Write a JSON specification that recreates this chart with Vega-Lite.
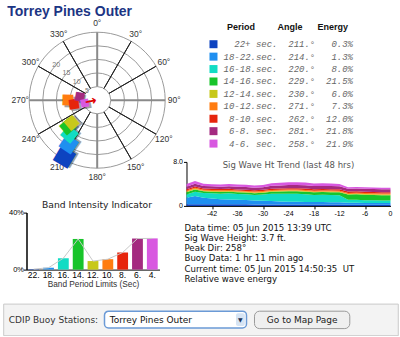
{
  "$schema": "https://vega.github.io/schema/vega-lite/v6.json",
  "background": "white",
  "padding": {"left": 2.2, "top": 5, "right": 0, "bottom": 0},
  "config": {"view": {"stroke": null}, "font": "DejaVu Sans"},
  "datasets": {
    "bands": [
      {"p": 22, "band": "22+ sec.", "angle": 211, "angleLabel": "211.°", "energy": 0.003, "rpos": 24.1},
      {"p": 18, "band": "18-22.sec.", "angle": 214, "angleLabel": "214.°", "energy": 0.013, "rpos": 19.3},
      {"p": 16, "band": "16-18.sec.", "angle": 220, "angleLabel": "220.°", "energy": 0.080, "rpos": 16.2},
      {"p": 14, "band": "14-16.sec.", "angle": 229, "angleLabel": "229.°", "energy": 0.215, "rpos": 14.5},
      {"p": 12, "band": "12-14.sec.", "angle": 230, "angleLabel": "230.°", "energy": 0.060, "rpos": 12.5},
      {"p": 10, "band": "10-12.sec.", "angle": 271, "angleLabel": "271.°", "energy": 0.073, "rpos": 10.7},
      {"p": 8, "band": "8-10.sec.", "angle": 262, "angleLabel": "262.°", "energy": 0.120, "rpos": 8.6},
      {"p": 6, "band": "6-8. sec.", "angle": 281, "angleLabel": "281.°", "energy": 0.218, "rpos": 6.6},
      {"p": 4, "band": "4-6. sec.", "angle": 258, "angleLabel": "258.°", "energy": 0.219, "rpos": 4.7}
    ],
    "deg": [
      {"angle": 0, "label": "0°"}, {"angle": 30, "label": "30°"}, {"angle": 60, "label": "60°"},
      {"angle": 90, "label": "90°"}, {"angle": 120, "label": "120°"}, {"angle": 150, "label": "150°"},
      {"angle": 180, "label": "180°"}, {"angle": 210, "label": "210°"}, {"angle": 240, "label": "240°"},
      {"angle": 270, "label": "270°"}, {"angle": 300, "label": "300°"}, {"angle": 330, "label": "330°"}
    ],
    "rings": [{"r": 5}, {"r": 10}, {"r": 15}, {"r": 20}, {"r": 25}],
    "ringlab": [{"ring": 5}, {"ring": 10}, {"ring": 15}, {"ring": 20}],
    "peak": [{"dir": 258}],
    "hours": [{"hr": "-42", "t": -42}, {"hr": "-36", "t": -36}, {"hr": "-30", "t": -30}, {"hr": "-24", "t": -24}, {"hr": "-18", "t": -18}, {"hr": "-12", "t": -12}, {"hr": "-6", "t": -6}, {"hr": "0", "t": 0}],
    "info": [
      {"text": "Data time: 05 Jun 2015 13:39 UTC"},
      {"text": "Sig Wave Height: 3.7 ft."},
      {"text": "Peak Dir: 258°"},
      {"text": "Buoy Data: 1 hr 11 min ago"},
      {"text": "Current time: 05 Jun 2015 14:50:35\u00a0\u00a0UT"},
      {"text": "Relative wave energy"}
    ],
    "trend": [
      {"t":-48,"p":22,"h":0.3},{"t":-48,"p":18,"h":1.2},{"t":-48,"p":16,"h":0.55},{"t":-48,"p":14,"h":0.45},{"t":-48,"p":12,"h":0.12},{"t":-48,"p":10,"h":0.18},{"t":-48,"p":8,"h":0.22},{"t":-48,"p":6,"h":0.45},{"t":-48,"p":4,"h":0.5},
      {"t":-46,"p":22,"h":0.3},{"t":-46,"p":18,"h":1.5},{"t":-46,"p":16,"h":0.75},{"t":-46,"p":14,"h":0.45},{"t":-46,"p":12,"h":0.12},{"t":-46,"p":10,"h":0.18},{"t":-46,"p":8,"h":0.22},{"t":-46,"p":6,"h":0.5},{"t":-46,"p":4,"h":0.5},
      {"t":-44,"p":22,"h":0.28},{"t":-44,"p":18,"h":1.2},{"t":-44,"p":16,"h":0.85},{"t":-44,"p":14,"h":0.32},{"t":-44,"p":12,"h":0.12},{"t":-44,"p":10,"h":0.18},{"t":-44,"p":8,"h":0.22},{"t":-44,"p":6,"h":0.45},{"t":-44,"p":4,"h":0.4},
      {"t":-42,"p":22,"h":0.28},{"t":-42,"p":18,"h":1.05},{"t":-42,"p":16,"h":0.95},{"t":-42,"p":14,"h":0.3},{"t":-42,"p":12,"h":0.12},{"t":-42,"p":10,"h":0.18},{"t":-42,"p":8,"h":0.22},{"t":-42,"p":6,"h":0.45},{"t":-42,"p":4,"h":0.38},
      {"t":-40,"p":22,"h":0.28},{"t":-40,"p":18,"h":0.95},{"t":-40,"p":16,"h":1.0},{"t":-40,"p":14,"h":0.3},{"t":-40,"p":12,"h":0.12},{"t":-40,"p":10,"h":0.18},{"t":-40,"p":8,"h":0.22},{"t":-40,"p":6,"h":0.45},{"t":-40,"p":4,"h":0.38},
      {"t":-38,"p":22,"h":0.28},{"t":-38,"p":18,"h":0.9},{"t":-38,"p":16,"h":1.1},{"t":-38,"p":14,"h":0.3},{"t":-38,"p":12,"h":0.12},{"t":-38,"p":10,"h":0.18},{"t":-38,"p":8,"h":0.22},{"t":-38,"p":6,"h":0.48},{"t":-38,"p":4,"h":0.42},
      {"t":-36,"p":22,"h":0.28},{"t":-36,"p":18,"h":0.85},{"t":-36,"p":16,"h":1.05},{"t":-36,"p":14,"h":0.3},{"t":-36,"p":12,"h":0.12},{"t":-36,"p":10,"h":0.18},{"t":-36,"p":8,"h":0.22},{"t":-36,"p":6,"h":0.48},{"t":-36,"p":4,"h":0.42},
      {"t":-34,"p":22,"h":0.28},{"t":-34,"p":18,"h":0.8},{"t":-34,"p":16,"h":1.05},{"t":-34,"p":14,"h":0.3},{"t":-34,"p":12,"h":0.12},{"t":-34,"p":10,"h":0.18},{"t":-34,"p":8,"h":0.22},{"t":-34,"p":6,"h":0.48},{"t":-34,"p":4,"h":0.42},
      {"t":-32,"p":22,"h":0.27},{"t":-32,"p":18,"h":0.72},{"t":-32,"p":16,"h":1.0},{"t":-32,"p":14,"h":0.32},{"t":-32,"p":12,"h":0.12},{"t":-32,"p":10,"h":0.18},{"t":-32,"p":8,"h":0.22},{"t":-32,"p":6,"h":0.47},{"t":-32,"p":4,"h":0.4},
      {"t":-30,"p":22,"h":0.27},{"t":-30,"p":18,"h":0.68},{"t":-30,"p":16,"h":1.1},{"t":-30,"p":14,"h":0.35},{"t":-30,"p":12,"h":0.12},{"t":-30,"p":10,"h":0.18},{"t":-30,"p":8,"h":0.22},{"t":-30,"p":6,"h":0.48},{"t":-30,"p":4,"h":0.4},
      {"t":-28,"p":22,"h":0.27},{"t":-28,"p":18,"h":0.62},{"t":-28,"p":16,"h":1.3},{"t":-28,"p":14,"h":0.4},{"t":-28,"p":12,"h":0.12},{"t":-28,"p":10,"h":0.18},{"t":-28,"p":8,"h":0.24},{"t":-28,"p":6,"h":0.52},{"t":-28,"p":4,"h":0.45},
      {"t":-26,"p":22,"h":0.26},{"t":-26,"p":18,"h":0.55},{"t":-26,"p":16,"h":1.4},{"t":-26,"p":14,"h":0.42},{"t":-26,"p":12,"h":0.12},{"t":-26,"p":10,"h":0.18},{"t":-26,"p":8,"h":0.25},{"t":-26,"p":6,"h":0.55},{"t":-26,"p":4,"h":0.47},
      {"t":-24,"p":22,"h":0.26},{"t":-24,"p":18,"h":0.5},{"t":-24,"p":16,"h":1.45},{"t":-24,"p":14,"h":0.45},{"t":-24,"p":12,"h":0.12},{"t":-24,"p":10,"h":0.18},{"t":-24,"p":8,"h":0.25},{"t":-24,"p":6,"h":0.58},{"t":-24,"p":4,"h":0.5},
      {"t":-22,"p":22,"h":0.26},{"t":-22,"p":18,"h":0.48},{"t":-22,"p":16,"h":1.45},{"t":-22,"p":14,"h":0.47},{"t":-22,"p":12,"h":0.12},{"t":-22,"p":10,"h":0.18},{"t":-22,"p":8,"h":0.25},{"t":-22,"p":6,"h":0.6},{"t":-22,"p":4,"h":0.5},
      {"t":-20,"p":22,"h":0.25},{"t":-20,"p":18,"h":0.46},{"t":-20,"p":16,"h":1.4},{"t":-20,"p":14,"h":0.48},{"t":-20,"p":12,"h":0.12},{"t":-20,"p":10,"h":0.18},{"t":-20,"p":8,"h":0.26},{"t":-20,"p":6,"h":0.6},{"t":-20,"p":4,"h":0.5},
      {"t":-18,"p":22,"h":0.25},{"t":-18,"p":18,"h":0.44},{"t":-18,"p":16,"h":1.3},{"t":-18,"p":14,"h":0.48},{"t":-18,"p":12,"h":0.12},{"t":-18,"p":10,"h":0.18},{"t":-18,"p":8,"h":0.25},{"t":-18,"p":6,"h":0.58},{"t":-18,"p":4,"h":0.45},
      {"t":-16,"p":22,"h":0.25},{"t":-16,"p":18,"h":0.44},{"t":-16,"p":16,"h":1.32},{"t":-16,"p":14,"h":0.5},{"t":-16,"p":12,"h":0.12},{"t":-16,"p":10,"h":0.18},{"t":-16,"p":8,"h":0.25},{"t":-16,"p":6,"h":0.58},{"t":-16,"p":4,"h":0.46},
      {"t":-14,"p":22,"h":0.25},{"t":-14,"p":18,"h":0.42},{"t":-14,"p":16,"h":1.3},{"t":-14,"p":14,"h":0.52},{"t":-14,"p":12,"h":0.12},{"t":-14,"p":10,"h":0.18},{"t":-14,"p":8,"h":0.25},{"t":-14,"p":6,"h":0.58},{"t":-14,"p":4,"h":0.43},
      {"t":-12,"p":22,"h":0.25},{"t":-12,"p":18,"h":0.42},{"t":-12,"p":16,"h":1.25},{"t":-12,"p":14,"h":0.55},{"t":-12,"p":12,"h":0.12},{"t":-12,"p":10,"h":0.18},{"t":-12,"p":8,"h":0.25},{"t":-12,"p":6,"h":0.57},{"t":-12,"p":4,"h":0.41},
      {"t":-10,"p":22,"h":0.22},{"t":-10,"p":18,"h":0.34},{"t":-10,"p":16,"h":0.55},{"t":-10,"p":14,"h":0.95},{"t":-10,"p":12,"h":0.12},{"t":-10,"p":10,"h":0.18},{"t":-10,"p":8,"h":0.25},{"t":-10,"p":6,"h":0.5},{"t":-10,"p":4,"h":0.29},
      {"t":-8,"p":22,"h":0.22},{"t":-8,"p":18,"h":0.34},{"t":-8,"p":16,"h":0.55},{"t":-8,"p":14,"h":1.0},{"t":-8,"p":12,"h":0.12},{"t":-8,"p":10,"h":0.18},{"t":-8,"p":8,"h":0.25},{"t":-8,"p":6,"h":0.5},{"t":-8,"p":4,"h":0.29},
      {"t":-6,"p":22,"h":0.21},{"t":-6,"p":18,"h":0.33},{"t":-6,"p":16,"h":0.5},{"t":-6,"p":14,"h":1.0},{"t":-6,"p":12,"h":0.12},{"t":-6,"p":10,"h":0.18},{"t":-6,"p":8,"h":0.25},{"t":-6,"p":6,"h":0.52},{"t":-6,"p":4,"h":0.29},
      {"t":-4,"p":22,"h":0.21},{"t":-4,"p":18,"h":0.32},{"t":-4,"p":16,"h":0.48},{"t":-4,"p":14,"h":0.98},{"t":-4,"p":12,"h":0.12},{"t":-4,"p":10,"h":0.18},{"t":-4,"p":8,"h":0.25},{"t":-4,"p":6,"h":0.52},{"t":-4,"p":4,"h":0.29},
      {"t":-2,"p":22,"h":0.2},{"t":-2,"p":18,"h":0.31},{"t":-2,"p":16,"h":0.46},{"t":-2,"p":14,"h":0.98},{"t":-2,"p":12,"h":0.12},{"t":-2,"p":10,"h":0.18},{"t":-2,"p":8,"h":0.25},{"t":-2,"p":6,"h":0.51},{"t":-2,"p":4,"h":0.29},
      {"t":0,"p":22,"h":0.2},{"t":0,"p":18,"h":0.31},{"t":0,"p":16,"h":0.46},{"t":0,"p":14,"h":0.98},{"t":0,"p":12,"h":0.12},{"t":0,"p":10,"h":0.18},{"t":0,"p":8,"h":0.25},{"t":0,"p":6,"h":0.51},{"t":0,"p":4,"h":0.29}
    ]
  },
  "vconcat": [
    {
      "hconcat": [
        {
          "vconcat": [
            {
              "width": 188,
              "height": 124.4,
              "title": {"text": "Torrey Pines Outer", "anchor": "start", "frame": "group", "font": "Liberation Sans", "fontSize": 14, "fontWeight": "bold", "color": "#1c3584", "dx": 4, "offset": -11, "baseline": "alphabetic"},
              "layer": [
                {
                  "data": {"name": "rings"},
                  "mark": {"type": "arc", "filled": false, "stroke": "#9a9a9a", "strokeWidth": 1},
                  "encoding": {
                    "theta": {"datum": 0, "type": "quantitative", "stack": null, "scale": {"domain": [0, 360], "range": [0, 6.283185307179586]}},
                    "theta2": {"datum": 360},
                    "radius": {"field": "r", "type": "quantitative", "stack": null, "scale": {"type": "linear", "domain": [0, 25], "range": [0, 68], "zero": true}}
                  }
                },
                {
                  "data": {"name": "deg"},
                  "transform": [{"filter": "datum.angle % 90 != 0"}],
                  "mark": {"type": "arc", "filled": false, "stroke": "#222222", "strokeWidth": 1},
                  "encoding": {
                    "theta": {"field": "angle", "type": "quantitative", "stack": null},
                    "theta2": {"field": "angle"},
                    "radius": {"datum": 25, "type": "quantitative", "stack": null},
                    "radius2": {"datum": 5}
                  }
                },
                {
                  "data": {"name": "deg"},
                  "transform": [{"filter": "datum.angle % 90 == 0"}],
                  "mark": {"type": "arc", "filled": false, "stroke": "#8a8a8a", "strokeWidth": 2},
                  "encoding": {
                    "theta": {"field": "angle", "type": "quantitative", "stack": null},
                    "theta2": {"field": "angle"},
                    "radius": {"datum": 25, "type": "quantitative", "stack": null},
                    "radius2": {"datum": 5}
                  }
                },
                {
                  "data": {"name": "deg"},
                  "mark": {"type": "text", "font": "Liberation Sans", "fontSize": 8.5, "color": "#333333", "align": "center", "baseline": "middle"},
                  "encoding": {
                    "theta": {"field": "angle", "type": "quantitative", "stack": null},
                    "radius": {"datum": 28.3, "type": "quantitative"},
                    "text": {"field": "label"}
                  }
                },
                {
                  "data": {"name": "ringlab"},
                  "mark": {"type": "text", "font": "Liberation Sans", "fontSize": 7, "color": "#777777", "align": "center", "baseline": "middle"},
                  "encoding": {
                    "theta": {"datum": 311, "type": "quantitative", "stack": null},
                    "radius": {"field": "ring", "type": "quantitative", "stack": null},
                    "text": {"field": "ring"}
                  }
                },
                {
                  "data": {"name": "bands"},
                  "mark": {"type": "text", "text": "■", "font": "DejaVu Sans", "align": "center", "baseline": "middle", "color": "#333333", "opacity": 0.45, "dx": 1.8, "dy": 1.8},
                  "encoding": {
                    "theta": {"field": "angle", "type": "quantitative", "stack": null},
                    "radius": {"field": "rpos", "type": "quantitative", "stack": null},
                    "angle": {"field": "angle", "type": "quantitative", "scale": {"domain": [0, 360], "range": [-270, 90]}},
                    "size": {"field": "rpos", "type": "quantitative", "scale": {"domain": [0, 25], "range": [7.5, 22.9]}, "legend": null}
                  }
                },
                {
                  "data": {"name": "bands"},
                  "mark": {"type": "text", "text": "■", "font": "DejaVu Sans", "align": "center", "baseline": "middle"},
                  "encoding": {
                    "theta": {"field": "angle", "type": "quantitative", "stack": null},
                    "radius": {"field": "rpos", "type": "quantitative", "stack": null},
                    "angle": {"field": "angle", "type": "quantitative"},
                    "size": {"field": "rpos", "type": "quantitative", "legend": null},
                    "color": {"field": "p", "type": "ordinal", "scale": {"domain": [22, 18, 16, 14, 12, 10, 8, 6, 4], "range": ["#0d43c0", "#1f8ff0", "#12dcc4", "#18c42a", "#c7c81a", "#ff7c10", "#e6250c", "#a42a80", "#d858e0"]}, "legend": null}
                  }
                },
                {
                  "data": {"name": "peak"},
                  "mark": {"type": "text", "text": "→", "font": "DejaVu Sans", "fontWeight": "bold", "fontSize": 14, "color": "#e00000", "align": "center", "baseline": "middle"},
                  "encoding": {
                    "theta": {"field": "dir", "type": "quantitative", "stack": null},
                    "radius": {"datum": 2.4, "type": "quantitative"},
                    "angle": {"field": "dir", "type": "quantitative"}
                  }
                }
              ]
            },
            {
              "hconcat": [
                {"width": 1, "height": 1, "data": {"values": []}, "mark": "text"},
                {
                  "width": 133,
                  "height": 57,
                  "data": {"name": "bands"},
                  "title": {"text": "Band Intensity Indicator", "font": "DejaVu Sans", "fontSize": 9.2, "fontWeight": "normal", "color": "#222222", "offset": -9, "dx": 4, "baseline": "alphabetic"},
                  "encoding": {
                    "x": {"field": "p", "type": "ordinal", "sort": "descending", "scale": {"paddingInner": 0.27, "paddingOuter": 0.12},
                      "axis": {"labelExpr": "datum.label + '.'", "labelAngle": 0, "ticks": false, "domainColor": "#000000", "labelFont": "Liberation Sans", "labelFontSize": 8.5, "labelColor": "#000000", "labelPadding": 1, "title": "Band Period Limits (Sec)", "titleFont": "Liberation Sans", "titleFontSize": 8.3, "titleFontWeight": "normal", "titleColor": "#333333", "titlePadding": 0}},
                    "y": {"field": "energy", "type": "quantitative", "scale": {"domain": [0, 0.4], "nice": false},
                      "axis": {"values": [0, 0.4], "format": ".0%", "title": null, "grid": false, "domainColor": "#000000", "domainWidth": 1.5, "tickColor": "#000000", "tickSize": 3, "labelFont": "Liberation Sans", "labelFontSize": 7.5, "labelColor": "#000000", "labelPadding": 0, "labelFlush": false}}
                  },
                  "layer": [
                    {"mark": {"type": "bar"}, "encoding": {"color": {"field": "p", "type": "ordinal", "legend": null}}},
                    {"mark": {"type": "line", "color": "#c8c8c8", "strokeWidth": 1}}
                  ]
                }
              ],
              "spacing": 22.3,
              "bounds": "flush"
            }
          ],
          "spacing": 49.6,
          "bounds": "flush"
        },
        {
          "vconcat": [
            {
              "width": 166.5,
              "height": 111.8,
              "data": {"name": "bands"},
              "title": {"text": "Period\u00a0\u00a0\u00a0\u00a0\u00a0\u00a0\u00a0\u00a0\u00a0Angle\u00a0\u00a0\u00a0\u00a0\u00a0\u00a0Energy", "anchor": "start", "frame": "group", "font": "Liberation Sans", "fontSize": 9, "fontWeight": "bold", "color": "#111111", "dx": 40.6, "offset": -0.5, "baseline": "alphabetic"},
              "encoding": {
                "y": {"field": "p", "type": "ordinal", "sort": "descending", "scale": {"type": "point", "padding": 0.5}, "axis": null}
              },
              "layer": [
                {
                  "mark": {"type": "square", "size": 64, "filled": true, "opacity": 1},
                  "encoding": {
                    "x": {"datum": "swatch", "type": "nominal", "bandPosition": 0.305, "scale": {"type": "band", "domain": ["swatch", "period", "angle", "energy"], "paddingInner": 0, "paddingOuter": 0.205, "align": 1}, "axis": null},
                    "color": {"field": "p", "type": "ordinal", "legend": null}
                  }
                },
                {
                  "mark": {"type": "text", "align": "right", "baseline": "middle", "font": "Liberation Mono", "fontStyle": "italic", "fontSize": 9, "color": "#666666"},
                  "encoding": {
                    "x": {"datum": "period", "type": "nominal", "bandPosition": 1},
                    "text": {"field": "band"}
                  }
                },
                {
                  "mark": {"type": "text", "align": "right", "baseline": "middle", "font": "Liberation Mono", "fontStyle": "italic", "fontSize": 9, "color": "#666666"},
                  "encoding": {
                    "x": {"datum": "angle", "type": "nominal", "bandPosition": 1},
                    "text": {"field": "angleLabel"}
                  }
                },
                {
                  "mark": {"type": "text", "align": "right", "baseline": "middle", "font": "Liberation Mono", "fontStyle": "italic", "fontSize": 9, "color": "#666666"},
                  "encoding": {
                    "x": {"datum": "energy", "type": "nominal", "bandPosition": 1},
                    "text": {"field": "energy", "format": ".1%"}
                  }
                }
              ]
            },
            {
              "width": 204,
              "height": 44,
              "layer": [
                {
                  "data": {"name": "trend"},
                  "mark": {"type": "area"},
                  "encoding": {
                    "x": {"field": "t", "type": "quantitative", "scale": {"domain": [-48, 0], "nice": false, "zero": false},
                      "axis": {"values": [-42, -36, -30, -24, -18, -12, -6, 0], "labels": false, "title": null, "grid": false, "domainColor": "#000000", "tickColor": "#000000", "tickSize": 3}},
                    "y": {"field": "h", "type": "quantitative", "stack": "zero", "scale": {"domain": [0, 8], "nice": false},
                      "axis": {"values": [0, 8], "labelOverlap": false, "labelExpr": "datum.value == 0 ? '0' : format(datum.value, '.1f')", "title": null, "grid": false, "domainColor": "#000000", "tickColor": "#000000", "tickSize": 3, "labelFont": "Liberation Sans", "labelFontSize": 7, "labelColor": "#000000", "labelPadding": 1, "labelFlush": false}},
                    "color": {"field": "p", "type": "ordinal", "legend": null},
                    "order": {"field": "p", "sort": "descending"}
                  }
                },
                {
                  "data": {"name": "hours"},
                  "mark": {"type": "text", "font": "Liberation Sans", "fontSize": 7, "color": "#000000", "align": "center", "baseline": "top", "dy": 4.5},
                  "encoding": {
                    "x": {"field": "t", "type": "quantitative"},
                    "y": {"datum": 0, "type": "quantitative"},
                    "text": {"field": "hr"}
                  }
                },
                {
                  "data": {"values": [{"title": "Sig Wave Ht Trend (last 48 hrs)"}]},
                  "mark": {"type": "text", "font": "DejaVu Sans", "fontSize": 8.5, "color": "#555555", "align": "center", "baseline": "middle"},
                  "encoding": {
                    "x": {"datum": -24, "type": "quantitative"},
                    "y": {"datum": 7.4, "type": "quantitative"},
                    "text": {"field": "title"}
                  }
                }
              ]
            },
            {
              "width": 210,
              "height": 71.2,
              "data": {"name": "info"},
              "mark": {"type": "text", "align": "left", "baseline": "middle", "font": "DejaVu Sans", "fontSize": 8.6, "color": "#111111", "dx": -2},
              "encoding": {
                "x": {"datum": 0, "type": "quantitative", "scale": {"domain": [0, 1]}, "axis": null},
                "y": {"field": "text", "type": "nominal", "sort": null, "scale": {"type": "point", "padding": 1.13}, "axis": null},
                "text": {"field": "text"}
              }
            }
          ],
          "spacing": 11.9,
          "bounds": "flush"
        }
      ],
      "spacing": 183.3,
      "bounds": "flush"
    },
    {
      "width": 394.6,
      "height": 31.6,
      "view": {"fill": "#f3f3f3", "stroke": "#c9c9c9", "strokeWidth": 1},
      "layer": [
        {
          "data": {"values": [{"widget": "select"}]},
          "mark": {"type": "rect", "fill": "#ffffff", "stroke": "#6b9ad6", "strokeWidth": 1.5, "cornerRadius": 4},
          "encoding": {
            "x": {"datum": 101.3, "type": "quantitative", "scale": {"domain": [0, 394.6], "nice": false, "zero": false}, "axis": null},
            "x2": {"datum": 243.3},
            "y": {"datum": 7.6, "type": "quantitative", "scale": {"domain": [0, 31.6], "nice": false, "zero": false, "reverse": true}, "axis": null},
            "y2": {"datum": 24.3}
          }
        },
        {
          "data": {"values": [{"widget": "arrow"}]},
          "mark": {"type": "rect", "fill": "#d6e4f4", "cornerRadius": 2},
          "encoding": {
            "x": {"datum": 232.8, "type": "quantitative"},
            "x2": {"datum": 241.6},
            "y": {"datum": 9.6, "type": "quantitative"},
            "y2": {"datum": 22.3}
          }
        },
        {
          "data": {"values": [{"widget": "button"}]},
          "mark": {"type": "rect", "fill": "#efefef", "stroke": "#9a9a9a", "strokeWidth": 1, "cornerRadius": 5},
          "encoding": {
            "x": {"datum": 251.3, "type": "quantitative"},
            "x2": {"datum": 346.6},
            "y": {"datum": 7.6, "type": "quantitative"},
            "y2": {"datum": 25}
          }
        },
        {
          "data": {"values": [{"label": "CDIP Buoy Stations:"}]},
          "mark": {"type": "text", "align": "left", "baseline": "middle", "font": "DejaVu Sans", "fontSize": 9, "color": "#333333"},
          "encoding": {"x": {"datum": 5.6, "type": "quantitative"}, "y": {"datum": 16, "type": "quantitative"}, "text": {"field": "label"}}
        },
        {
          "data": {"values": [{"label": "Torrey Pines Outer"}]},
          "mark": {"type": "text", "align": "left", "baseline": "middle", "font": "DejaVu Sans", "fontSize": 9, "color": "#111111"},
          "encoding": {"x": {"datum": 106.6, "type": "quantitative"}, "y": {"datum": 16, "type": "quantitative"}, "text": {"field": "label"}}
        },
        {
          "data": {"values": [{"label": "▼"}]},
          "mark": {"type": "text", "align": "center", "baseline": "middle", "font": "DejaVu Sans", "fontSize": 6, "color": "#223355"},
          "encoding": {"x": {"datum": 237.2, "type": "quantitative"}, "y": {"datum": 16, "type": "quantitative"}, "text": {"field": "label"}}
        },
        {
          "data": {"values": [{"label": "Go to Map Page"}]},
          "mark": {"type": "text", "align": "center", "baseline": "middle", "font": "DejaVu Sans", "fontSize": 9, "color": "#222222"},
          "encoding": {"x": {"datum": 299, "type": "quantitative"}, "y": {"datum": 16, "type": "quantitative"}, "text": {"field": "label"}}
        }
      ]
    }
  ],
  "spacing": 265.6,
  "bounds": "flush"
}
